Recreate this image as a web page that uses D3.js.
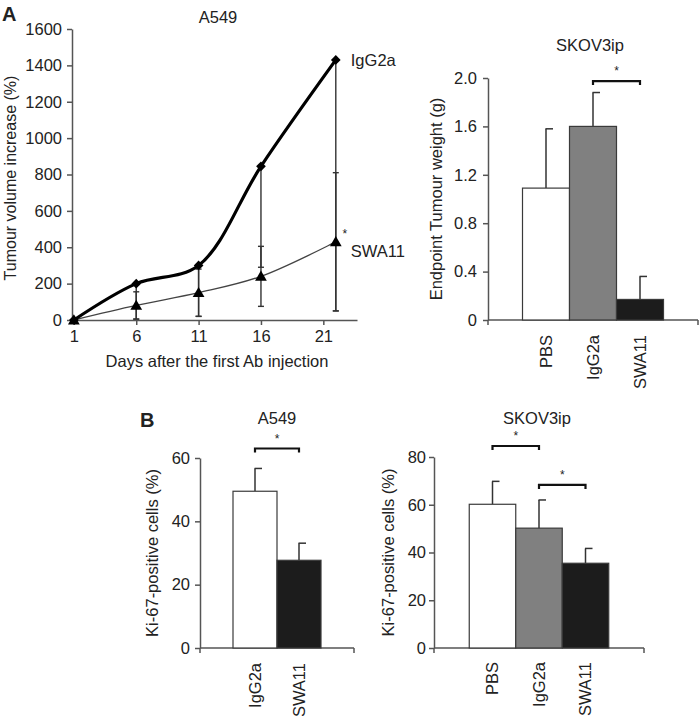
<!DOCTYPE html>
<html>
<head>
<meta charset="utf-8">
<script src="https://cdn.jsdelivr.net/npm/d3@7"></script>
<style>
  html, body { margin: 0; padding: 0; background: #fff; }
  svg { display: block; font-family: "Liberation Sans", Arial, sans-serif; }
  text { fill: #222; }
</style>
</head>
<body>
<svg id="chart" width="700" height="716"></svg>
<script>
// ---------- DATA ----------
// Panel A (left): A549 tumour volume increase (%)
const lineDays = [1, 6, 11, 16, 22];
const lineTickDays = [1, 6, 11, 16, 21];
const volumeTicks = [0, 200, 400, 600, 800, 1000, 1200, 1400, 1600];
const iggVolume = [0, 200, 300, 845, 1430];
const iggVolumeErrLow = [0, 195, 280, 555, 1380];
const swaVolume = [0, 80, 150, 240, 430];
const swaVolumeErr = [0, 75, 130, 165, 380];

// Panel A (right): SKOV3ip endpoint tumour weight (g)
const weightGroups = ["PBS", "IgG2a", "SWA11"];
const weightValues = [1.09, 1.60, 0.17];
const weightErrors = [0.49, 0.28, 0.19];
const weightFills = ["#ffffff", "#808080", "#1c1c1c"];
const weightTicks = [0, 0.4, 0.8, 1.2, 1.6, 2.0];
const weightSig = [{ from: "IgG2a", to: "SWA11", level: 1.975 }];

// Panel B (left): A549 Ki-67-positive cells (%)
const kiA549Groups = ["IgG2a", "SWA11"];
const kiA549Values = [49.5, 27.7];
const kiA549Errors = [7.2, 5.4];
const kiA549Fills = ["#ffffff", "#1c1c1c"];
const kiA549Ticks = [0, 20, 40, 60];
const kiA549Sig = [{ from: "IgG2a", to: "SWA11", level: 63 }];

// Panel B (right): SKOV3ip Ki-67-positive cells (%)
const kiSkovGroups = ["PBS", "IgG2a", "SWA11"];
const kiSkovValues = [60.2, 50.2, 35.5];
const kiSkovErrors = [9.6, 11.8, 6.2];
const kiSkovFills = ["#ffffff", "#808080", "#1c1c1c"];
const kiSkovTicks = [0, 20, 40, 60, 80];
const kiSkovSig = [
  { from: "PBS", to: "IgG2a", level: 84.6 },
  { from: "IgG2a", to: "SWA11", level: 68.3 }
];

// ---------- DRAWING ----------
const svg = d3.select("#chart");
svg.append("rect").attr("width", 700).attr("height", 716).attr("fill", "#fff");

const AXIS = "#555";
const TICK_FS = 16.5;
const TITLE_FS = 16.5;
const LABEL_FS = 16.5;

function styleAxis(sel) {
  sel.select(".domain").attr("stroke", AXIS).attr("stroke-width", 1.5);
  sel.selectAll(".tick line").attr("stroke", AXIS).attr("stroke-width", 1.5);
  sel.selectAll(".tick text").attr("font-size", TICK_FS).attr("fill", "#222")
     .attr("font-family", "'Liberation Sans', Arial, sans-serif");
}

function panelText(x, y, txt, opts = {}) {
  const t = svg.append("text")
    .attr("x", x).attr("y", y)
    .attr("font-size", opts.size || TITLE_FS)
    .attr("text-anchor", opts.anchor || "middle")
    .text(txt);
  if (opts.bold) t.attr("font-weight", "bold");
  return t;
}

function rotLabel(cx, cy, txt, size) {
  svg.append("text")
    .attr("transform", `translate(${cx},${cy}) rotate(-90)`)
    .attr("text-anchor", "middle")
    .attr("dy", "0.35em")
    .attr("font-size", size || LABEL_FS)
    .text(txt);
}

// Panel letters
panelText(2, 21, "A", { anchor: "start", bold: true, size: 20 });
panelText(140, 427, "B", { anchor: "start", bold: true, size: 20 });

// ---------- Line chart ----------
(function lineChart() {
  const x = d3.scaleLinear().domain([0.85, 23.7]).range([72, 357]);
  const y = d3.scaleLinear().domain([0, 1600]).range([320, 29]);
  const g = svg.append("g");

  const yAx = g.append("g").attr("transform", "translate(72,0)")
    .call(d3.axisLeft(y).tickValues(volumeTicks).tickSize(5).tickPadding(5).tickSizeOuter(0).tickFormat(d3.format("d")));
  styleAxis(yAx);
  const xAx = g.append("g").attr("transform", "translate(0,320)")
    .call(d3.axisBottom(x).tickValues(lineTickDays).tickSize(5).tickPadding(5).tickSizeOuter(0));
  styleAxis(xAx);

  // error bars
  const capW = 3;
  const errG = g.append("g").attr("stroke", "#333").attr("stroke-width", 1.4);
  lineDays.forEach((d, i) => {
    const xx = x(d);
    if (iggVolumeErrLow[i] > 0) {
      const lo = iggVolume[i] - iggVolumeErrLow[i];
      errG.append("line").attr("x1", xx).attr("x2", xx).attr("y1", y(iggVolume[i])).attr("y2", y(lo));
      errG.append("line").attr("x1", xx - capW).attr("x2", xx + capW).attr("y1", y(lo)).attr("y2", y(lo));
    }
    if (swaVolumeErr[i] > 0) {
      const lo = swaVolume[i] - swaVolumeErr[i], hi = swaVolume[i] + swaVolumeErr[i];
      errG.append("line").attr("x1", xx).attr("x2", xx).attr("y1", y(hi)).attr("y2", y(lo));
      [lo, hi].forEach(v => errG.append("line").attr("x1", xx - capW).attr("x2", xx + capW).attr("y1", y(v)).attr("y2", y(v)));
    }
  });

  const line = (vals) => d3.line()
    .x((d, i) => x(lineDays[i])).y(d => y(d))
    .curve(d3.curveCatmullRom.alpha(0.5))(vals);

  g.append("path").attr("d", line(swaVolume)).attr("fill", "none")
    .attr("stroke", "#444").attr("stroke-width", 1.3);
  g.append("path").attr("d", line(iggVolume)).attr("fill", "none")
    .attr("stroke", "#000").attr("stroke-width", 3.2);

  g.selectAll(".dia").data(iggVolume).join("path")
    .attr("transform", (d, i) => `translate(${x(lineDays[i])},${y(d)})`)
    .attr("d", d3.symbol(d3.symbolDiamond2, 60)).attr("fill", "#000");
  g.selectAll(".tri").data(swaVolume).join("path")
    .attr("transform", (d, i) => `translate(${x(lineDays[i])},${y(d) + 1})`)
    .attr("d", d3.symbol(d3.symbolTriangle, 60)).attr("fill", "#000");

  const last = lineDays.length - 1;
  panelText(x(lineDays[last]) + 15, y(iggVolume[last]) + 6, "IgG2a", { anchor: "start", size: TITLE_FS });
  panelText(x(lineDays[last]) + 15, y(swaVolume[last]) + 15, "SWA11", { anchor: "start", size: TITLE_FS });
  panelText(x(lineDays[last]) + 9, y(swaVolume[last]) - 4, "*", { size: 12 });

  panelText(218, 23, "A549", { size: TITLE_FS });
  panelText(217, 367, "Days after the first Ab injection", { size: LABEL_FS });
  rotLabel(10, 178, "Tumour volume increase (%)", 16);
})();

// ---------- Bar chart helper ----------
function barPanel(cfg) {
  const g = svg.append("g");
  const y = d3.scaleLinear().domain(cfg.yDomain).range([cfg.y0, cfg.y1]);
  const n = cfg.groups.length;
  const step = cfg.barW;
  const totalW = cfg.xRight - cfg.xLeft;
  const pad = (totalW / step - n) / 2;
  const x = d3.scaleBand().domain(cfg.groups).range([cfg.xLeft, cfg.xRight])
    .paddingInner(0).paddingOuter(pad);

  const yAx = g.append("g").attr("transform", `translate(${cfg.xLeft},0)`)
    .call(d3.axisLeft(y).tickValues(cfg.ticks).tickSize(5).tickPadding(cfg.tickPad).tickSizeOuter(0)
      .tickFormat(cfg.fmt));
  styleAxis(yAx);

  // x axis: line with end ticks (no labels)
  const xa = g.append("g").attr("stroke", AXIS).attr("stroke-width", 1.5);
  xa.append("line").attr("x1", cfg.xLeft).attr("x2", cfg.xRight).attr("y1", cfg.y0).attr("y2", cfg.y0);
  [cfg.xLeft, cfg.xRight].forEach(xx =>
    xa.append("line").attr("x1", xx).attr("x2", xx).attr("y1", cfg.y0).attr("y2", cfg.y0 + 5));

  // error bars (upper only)
  const eg = g.append("g").attr("stroke", "#333").attr("stroke-width", 1.5);
  cfg.groups.forEach((k, i) => {
    const cx = x(k) + x.bandwidth() / 2;
    const top = cfg.values[i] + cfg.errors[i];
    eg.append("line").attr("x1", cx).attr("x2", cx).attr("y1", y(cfg.values[i])).attr("y2", y(top));
    eg.append("line").attr("x1", cx - 0.5).attr("x2", cx + 7).attr("y1", y(top)).attr("y2", y(top));
  });

  g.selectAll(".bar").data(cfg.groups).join("rect")
    .attr("x", k => x(k)).attr("width", x.bandwidth())
    .attr("y", (k, i) => y(cfg.values[i]))
    .attr("height", (k, i) => cfg.y0 - y(cfg.values[i]))
    .attr("fill", (k, i) => cfg.fills[i]).attr("stroke", "#3a3a3a").attr("stroke-width", 1.2);

  // significance brackets
  cfg.sig.forEach(s => {
    const xa1 = x(s.from) + x.bandwidth() / 2, xa2 = x(s.to) + x.bandwidth() / 2;
    const yy = y(s.level);
    g.append("path")
      .attr("d", `M${xa1},${yy + 4}V${yy}H${xa2}V${yy + 4}`)
      .attr("fill", "none").attr("stroke", "#111").attr("stroke-width", 2.2);
    g.append("text").attr("x", (xa1 + xa2) / 2).attr("y", yy - 6)
      .attr("text-anchor", "middle").attr("font-size", 12).text("*");
  });

  // category labels (rotated)
  cfg.groups.forEach(k => {
    const cx = x(k) + x.bandwidth() / 2;
    g.append("text")
      .attr("transform", `translate(${cx},${cfg.labelTop}) rotate(-90)`)
      .attr("text-anchor", "end").attr("dy", "0.35em")
      .attr("font-size", TICK_FS).text(k);
  });

  panelText(cfg.titleX, cfg.titleY, cfg.title, { size: TITLE_FS });
  rotLabel(cfg.ylabX, (cfg.y0 + cfg.y1) / 2, cfg.ylab, LABEL_FS);
}

// Panel A right
barPanel({
  groups: weightGroups, values: weightValues, errors: weightErrors, fills: weightFills,
  yDomain: [0, 2.0], ticks: weightTicks,
  fmt: d => d === 0 ? "0" : d3.format(".1f")(d),
  y0: 320, y1: 78, xLeft: 488, xRight: 698, barW: 47, tickPad: 6,
  sig: weightSig, labelTop: 335,
  title: "SKOV3ip", titleX: 590, titleY: 51,
  ylab: "Endpoint Tumour weight (g)", ylabX: 436
});

// Panel B left
barPanel({
  groups: kiA549Groups, values: kiA549Values, errors: kiA549Errors, fills: kiA549Fills,
  yDomain: [0, 60], ticks: kiA549Ticks, fmt: d3.format("d"),
  y0: 648, y1: 458, xLeft: 200, xRight: 354, barW: 44, tickPad: 5,
  sig: kiA549Sig, labelTop: 663,
  title: "A549", titleX: 277, titleY: 424,
  ylab: "Ki-67-positive cells (%)", ylabX: 152
});

// Panel B right
barPanel({
  groups: kiSkovGroups, values: kiSkovValues, errors: kiSkovErrors, fills: kiSkovFills,
  yDomain: [0, 80], ticks: kiSkovTicks, fmt: d3.format("d"),
  y0: 648, y1: 457, xLeft: 434, xRight: 644, barW: 46.5, tickPad: 3,
  sig: kiSkovSig, labelTop: 662,
  title: "SKOV3ip", titleX: 537, titleY: 424,
  ylab: "Ki-67-positive cells (%)", ylabX: 388
});
</script>
</body>
</html>
